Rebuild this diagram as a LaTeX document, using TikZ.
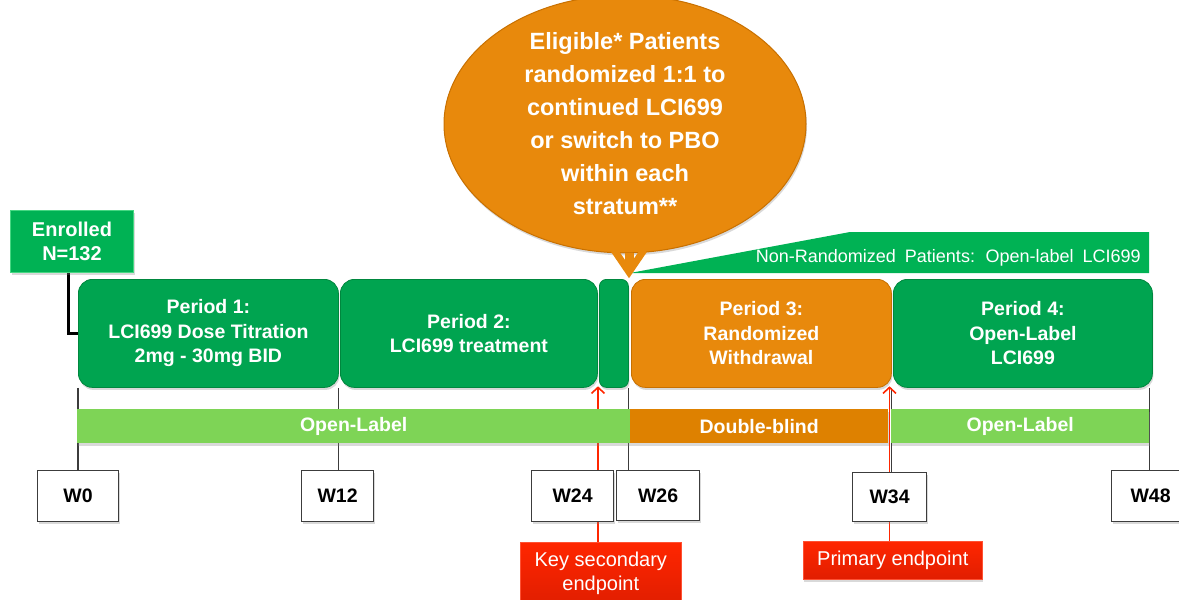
\documentclass[tikz,border=0pt]{standalone}
\usepackage{fontspec}
\setmainfont{Liberation Sans}
\usetikzlibrary{shapes.geometric,arrows.meta,shadows,backgrounds}
\definecolor{pgreen}{RGB}{0,164,80}
\definecolor{pgreenD}{RGB}{0,135,62}
\definecolor{egreen}{RGB}{0,178,84}
\definecolor{egreenL}{RGB}{70,215,130}
\definecolor{porange}{RGB}{232,137,12}
\definecolor{porangeD}{RGB}{200,112,0}
\definecolor{dbl}{RGB}{222,129,0}
\definecolor{lgreen}{RGB}{126,212,86}
\definecolor{pred}{RGB}{255,38,0}
\definecolor{predD}{RGB}{225,30,0}
\definecolor{vgray}{RGB}{60,60,60}
\begin{document}
\begin{tikzpicture}[x=1pt,y=-1pt,
  shd/.style={drop shadow={opacity=0.3,shadow xshift=1pt,shadow yshift=-2.5pt}},
  period/.style={shd,rounded corners=14pt,draw=pgreenD,line width=0.8pt,fill=pgreen,
    text=white,font=\fontsize{19.5}{24.5}\selectfont\bfseries,align=center,inner sep=0pt,
    anchor=north west,minimum height=108pt},
  bar/.style={shd,fill=lgreen,text=white,font=\fontsize{19.5}{24}\selectfont\bfseries,
    inner sep=0pt,anchor=north west,minimum height=34pt},
  week/.style={shd,fill=white,draw=vgray,line width=1.2pt,font=\fontsize{19.5}{24}\selectfont\bfseries,
    inner sep=0pt,anchor=north west},
  redbox/.style={shd,top color=pred,bottom color=predD,draw=pred!80!white,line width=0.6pt,text=white,
    font=\fontsize{20}{24}\selectfont,align=center,inner sep=0pt,anchor=north west},
  vline/.style={draw=vgray,line width=1.2pt},
  redarr/.style={draw=pred,line width=1.6pt,-{Straight Barb[length=6pt,width=13pt]}}
]
\useasboundingbox (0,0) rectangle (1179,600);
\clip (0,0) rectangle (1179,600);

% banner for non-randomized patients
\fill[egreen] (630,273) -- (850,232) -- (1149,232) -- (1149,273) -- cycle;
\node[text=white,font=\fontsize{18}{22}\selectfont,anchor=east,inner sep=0pt] (nr) at (1141,258) {\spaceskip=9pt plus 1pt Non-Randomized Patients: Open-label LCI699};

% ellipse
\node[ellipse,shd,fill=porange,draw=porangeD,line width=1pt,minimum width=362pt,minimum height=228pt,
  inner sep=0pt,text=white,font=\fontsize{23.5}{33}\selectfont\bfseries,align=center] (ell) at (625,124)
  {Eligible* Patients\\randomized 1:1 to\\continued LCI699\\or switch to PBO\\within each\\stratum**};

% enrolled
\node[shd,fill=egreen,draw=egreenL,line width=1pt,text=white,font=\fontsize{20}{24}\selectfont\bfseries,
  align=center,inner sep=0pt,anchor=north west,minimum width=123pt,minimum height=62pt] (enr) at (10,210)
  {Enrolled\\N=132};

% periods
\node[period,minimum width=260pt] (p1) at (78,279) {Period 1:\\LCI699 Dose Titration\\2mg - 30mg BID};
\node[period,minimum width=257pt] (p2) at (340,279) {Period 2:\\LCI699 treatment};
\node[period,minimum width=29pt,rounded corners=7pt] (pg) at (599,279) {};
\node[period,minimum width=260pt,fill=porange,draw=porangeD] (p3) at (631,279) {Period 3:\\Randomized\\Withdrawal};
\node[period,minimum width=259pt] (p4) at (893,279) {Period 4:\\Open-Label\\LCI699};

% orange arrow (shaft + chevron head)
\coordinate (xa) at (629,0);
\coordinate (tip) at (xa |- p3.north);
\draw[porange,line width=9pt] (ell.south -| xa) -- ([yshift=12pt]tip);
\draw[porange,line width=7pt,line join=miter,miter limit=3]
  ([xshift=-15pt,yshift=29pt]tip) -- ([yshift=7pt]tip) -- ([xshift=15pt,yshift=29pt]tip);

% bars
\node[bar,minimum width=553pt] (ol1) at (77,409) {Open-Label};
\node[bar,minimum width=258pt,fill=dbl] (db) at (630,409) {Double-blind};
\node[bar,minimum width=258pt] (ol2) at (891,409) {Open-Label};

% week boxes
\node[week,minimum width=81pt,minimum height=51pt] (w0) at (37,470) {W0};
\node[week,minimum width=72pt,minimum height=51pt] (w12) at (301,470) {W12};
\node[week,minimum width=82pt,minimum height=51pt] (w24) at (531,470) {W24};
\node[week,minimum width=83pt,minimum height=50pt] (w26) at (616,470) {W26};
\node[week,minimum width=74pt,minimum height=49pt] (w34) at (852,472) {W34};
\node[week,minimum width=78pt,minimum height=51pt] (w48) at (1111,470) {W48};

% endpoints
\node[redbox,minimum width=161pt,minimum height=62pt] (ks) at (520,542) {Key secondary\\endpoint};
\node[redbox,minimum width=179pt,minimum height=38pt] (pe) at (803,541) {Primary endpoint};

\coordinate (x24) at (598,0);
\coordinate (x34) at (889.5,0);

\begin{scope}[on background layer]
  \draw[line width=3pt,black] ([xshift=-3.5pt]enr.south) |- (p1.west);
  \draw[vline] (p1.south west) -- (p1.south west |- w0.north);
  \draw[vline] (p1.south east) -- (p1.south east |- w12.north);
  \draw[vline] (p2.south east) -- (p2.south east |- w24.north);
  \draw[vline] (pg.south east) -- (pg.south east |- w26.north);
  \draw[vline] (p3.south east) -- (p3.south east |- w34.north);
  \draw[vline] ([xshift=-3pt]p4.south east) -- ([xshift=-3pt]p4.south east |- w48.north);
  \draw[redarr] (ks.north -| x24) -- ([yshift=1.5pt]x24 |- p2.south);
  \draw[redarr] (pe.north -| x34) -- ([yshift=1.5pt]x34 |- p3.south);
\end{scope}
\end{tikzpicture}
\end{document}
